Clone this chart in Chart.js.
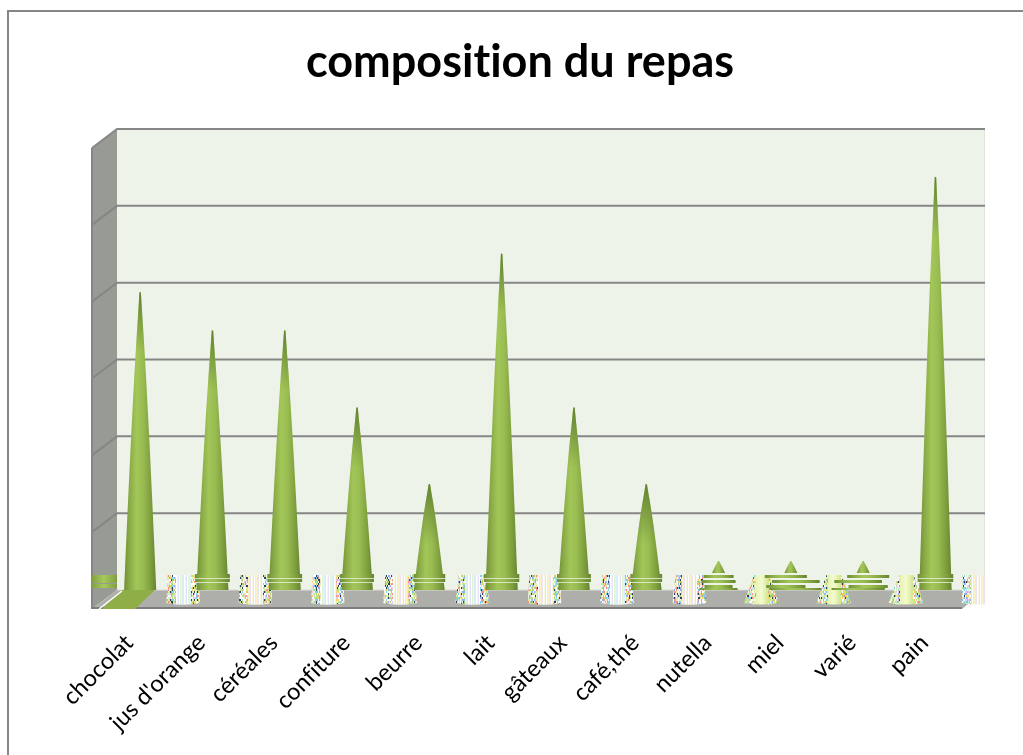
<!DOCTYPE html>
<html><head><meta charset="utf-8">
<style>html,body{margin:0;padding:0;background:#fff}#w{width:1023px;height:755px;position:relative}</style>
<script src="https://cdn.jsdelivr.net/npm/chart.js@4"></script>
</head><body><div id="w"><canvas id="c" width="1023" height="755"></canvas></div>
<script>
const categories = ["chocolat","jus d'orange","céréales","confiture","beurre","lait","gâteaux","café,thé","nutella","miel","varié","pain"];
const repas = [8,7,7,5,3,9,5,3,1,1,1,11];
const gridValues = [2,4,6,8,10,12];
const bandShift = [0,0,0,0,0,0,0,0,0,5,-5,0];
const bandScale = [1,1,1,1,1,1,1,1,1,1.4,1.4,1];
const noisePalette = ['#e8c8e8','#7fd8e8','#f0d060','#c0e890','#ff8a8a','#8fb0f0','#ffffff','#ffffff','#d8f0d0','#30405a','#e8e8a0','#ffffff','#f4f4f4','#a8d070'];
const stripePalette = ['#ffffff','#f0e0f4','#d8f0f8','#f8f4c8','#e0f4d0','#ffffff','#e8e0f8','#f4f8e0'];

const wall = {left:117, top:129, right:985, floor:590, depthX:25, depthY:19};
const planeShift = 9.5, blobShift = 43, blobTop = 575, blobBottom = 603;

function coneGradient(ctx, cx, w, stops){
  const g = ctx.createLinearGradient(cx-w/2,0,cx+w/2,0);
  stops.forEach(s=>g.addColorStop(s[0],s[1]));
  return g;
}
const bodyStops = [[0,'#6f8f34'],[0.14,'#86a644'],[0.38,'#a2c658'],[0.58,'#9abd52'],[0.84,'#7d9d3d'],[1,'#64842e']];

const scene = {
  id:'scene',
  beforeDraw(chart){ chart.ctx.letterSpacing='0.01px'; },
  beforeDatasetsDraw(chart){
    const ctx = chart.ctx, y = chart.scales.y;
    const W = wall;
    const frontLeft = W.left-W.depthX, frontBottom = W.floor+W.depthY;
    ctx.save();
    ctx.strokeStyle='#868686'; ctx.lineWidth=2;
    ctx.beginPath(); ctx.moveTo(8,755); ctx.lineTo(8,11); ctx.lineTo(1023,11); ctx.stroke();
    ctx.fillStyle='#eef3e9'; ctx.fillRect(W.left,W.top,W.right-W.left,W.floor-W.top);
    ctx.fillStyle='#e0e5dc'; ctx.fillRect(W.right-1,W.top,1,W.floor-W.top);
    ctx.fillStyle='#989a94';
    ctx.beginPath(); ctx.moveTo(frontLeft,W.top+W.depthY); ctx.lineTo(W.left,W.top); ctx.lineTo(W.left,W.floor); ctx.lineTo(frontLeft,frontBottom); ctx.closePath(); ctx.fill();
    ctx.strokeStyle='#868686'; ctx.lineWidth=2;
    gridValues.forEach(v=>{
      const p=y.getPixelForValue(v);
      ctx.beginPath(); ctx.moveTo(frontLeft,p+W.depthY); ctx.lineTo(W.left,p); ctx.lineTo(W.right,p); ctx.stroke();
    });
    ctx.beginPath(); ctx.moveTo(frontLeft,W.top+W.depthY); ctx.lineTo(frontLeft,frontBottom); ctx.stroke();
    ctx.fillStyle='#aeafaa';
    ctx.beginPath(); ctx.moveTo(frontLeft,frontBottom); ctx.lineTo(W.left,W.floor); ctx.lineTo(W.right,W.floor); ctx.lineTo(W.right-W.depthX+2,frontBottom); ctx.closePath(); ctx.fill();
    ctx.strokeStyle='#7c7c7c'; ctx.lineWidth=2;
    ctx.beginPath(); ctx.moveTo(frontLeft,frontBottom-1); ctx.lineTo(W.right-W.depthX+2,frontBottom-1); ctx.stroke();
    ctx.strokeStyle='#dcdcd8'; ctx.lineWidth=1;
    ctx.beginPath(); ctx.moveTo(W.left,W.floor); ctx.lineTo(W.right,W.floor); ctx.stroke();
    ctx.restore();
  },
  afterDatasetsDraw(chart){
    const ctx = chart.ctx, y = chart.scales.y;
    const base = y.getPixelForValue(0)+planeShift;
    const meta = chart.getDatasetMeta(0);
    ctx.save();
    meta.data.forEach((el,i)=>{
      const cx = el.x, tip = el.y+planeShift, bw = el.width;
      const widthAt = yy => bw*Math.pow(Math.max(0,(yy-tip)/(base-tip)),0.8);
      const bottom = wall.floor;
      const small = repas[i] <= 1;
      const bodyEnd = small ? 573 : bottom;
      const gw = widthAt(bodyEnd);
      const path = new Path2D();
      path.moveTo(cx-0.7,tip); path.lineTo(cx+0.7,tip);
      for(let k=1;k<=12;k++){const yy=tip+(bodyEnd-tip)*k/12; path.lineTo(cx+widthAt(yy)/2,yy);}
      for(let k=12;k>=1;k--){const yy=tip+(bodyEnd-tip)*k/12; path.lineTo(cx-widthAt(yy)/2,yy);}
      path.closePath();
      ctx.fillStyle = coneGradient(ctx,cx,gw,bodyStops);
      ctx.fill(path);
      if(!small){
        const tg = ctx.createLinearGradient(0,tip,0,tip+60);
        tg.addColorStop(0,'rgba(85,115,40,0.8)'); tg.addColorStop(1,'rgba(85,115,40,0)');
        ctx.fillStyle=tg; ctx.fill(path);
      }
      if(small){
        [[575,3,15],[580,3,17],[585,3,14],[588,2,19]].forEach((r,k)=>{
          const s = bandShift[i]*(k%2?1:-1), hw=r[2]*bandScale[i];
          ctx.fillStyle = coneGradient(ctx,cx+s,hw*2,bodyStops);
          ctx.fillRect(cx+s-hw,r[0],hw*2,r[1]);
        });
      } else if(i>0){
        const h = widthAt(577)/2+2;
        ctx.fillStyle = coneGradient(ctx,cx,h*2,bodyStops);
        ctx.fillRect(cx-h,574,h*2,8);
        ctx.fillStyle='rgba(238,243,233,0.75)';
        ctx.fillRect(cx-h,578,h*2,1);
        ctx.fillRect(cx-h,582,h*2,1);
      }
      const sx = cx+blobShift;
      const wt = widthAt(blobTop)/2, wb = widthAt(blobBottom)/2;
      ctx.save();
      ctx.beginPath(); ctx.rect(0,0,wall.right,755); ctx.clip();
      ctx.beginPath(); ctx.moveTo(sx-wt,blobTop); ctx.lineTo(sx+wt,blobTop); ctx.lineTo(sx+wb,blobBottom); ctx.quadraticCurveTo(sx,blobBottom+3,sx-wb,blobBottom); ctx.closePath();
      ctx.save(); ctx.clip();
      ctx.fillStyle = coneGradient(ctx,sx,wb*2, small ? [[0,'#bcd87a'],[0.3,'#e4f2ac'],[0.5,'#f4fad0'],[0.7,'#d0e68a'],[1,'#a8c860']] : [[0,'#dfeccf'],[0.5,'#ffffff'],[1,'#e2eed0']]);
      ctx.fillRect(sx-wb-1,blobTop,wb*2+2,blobBottom-blobTop+4);
      for(let x=Math.floor(sx-wb);x<sx+wb;x++){
        const d=Math.abs(x-sx)/wb;
        if(small){
          if(d<0.35) continue;
          for(let yy=blobTop;yy<blobBottom+3;yy+=2){
            const h=(x*x*31+yy*yy*17+x*yy*7+i*13)>>>2;
            if(h%3===0) continue;
            ctx.fillStyle=noisePalette[h%noisePalette.length];
            ctx.fillRect(x,yy,1,2);
          }
        } else if(d<0.45){
          ctx.fillStyle=stripePalette[(x*7+i*3)%stripePalette.length];
          ctx.fillRect(x,blobTop,1,blobBottom-blobTop+4);
        } else {
          for(let yy=blobTop;yy<blobBottom+3;yy+=2){
            const h=(x*x*31+yy*yy*17+x*yy*7+i*13)>>>2;
            ctx.fillStyle=noisePalette[h%noisePalette.length];
            ctx.fillRect(x,yy,1,2);
          }
        }
      }
      ctx.restore();
      ctx.restore();
    });
    ctx.fillStyle = coneGradient(ctx,104,26,[[0,'#7f9f3e'],[0.5,'#a6ca5c'],[1,'#7f9f3e']]);
    ctx.fillRect(91,575,26,8); ctx.fillRect(91,584,26,4);
    ctx.fillStyle='#8fae48';
    ctx.beginPath(); ctx.moveTo(122,590); ctx.lineTo(155,590); ctx.lineTo(135,609); ctx.lineTo(102,609); ctx.closePath(); ctx.fill();
    ctx.strokeStyle='#ffffff'; ctx.lineWidth=1.5;
    ctx.beginPath(); ctx.moveTo(99,609); ctx.lineTo(122,591); ctx.stroke();
    ctx.restore();
  }
};

new Chart(document.getElementById('c'),{
  type:'bar',
  data:{labels:categories,datasets:[{label:'repas',data:repas,backgroundColor:'rgba(0,0,0,0)',borderWidth:0,barPercentage:0.456,categoryPercentage:1}]},
  options:{
    responsive:false,animation:false,
    layout:{padding:{left:68.4,right:51.4,top:0,bottom:0}},
    plugins:{
      legend:{display:false},tooltip:{enabled:false},
      title:{display:true,text:'composition du repas',color:'#000',font:{family:'Lato',size:45,weight:'bold',lineHeight:1.2},padding:{top:35,bottom:40}}
    },
    scales:{
      x:{grid:{display:false},border:{display:false},
         ticks:{color:'#000',font:{family:'Lato',size:23.5},minRotation:45,maxRotation:45,autoSkip:false,padding:13,labelOffset:-11},
         afterFit(s){s.height=147;}},
      y:{min:-0.4685,max:12,display:true,grid:{display:false},border:{display:false},
         ticks:{display:false,stepSize:2},afterFit(s){s.width=35.6;}}
    }
  },
  plugins:[scene]
});
</script></body></html>
